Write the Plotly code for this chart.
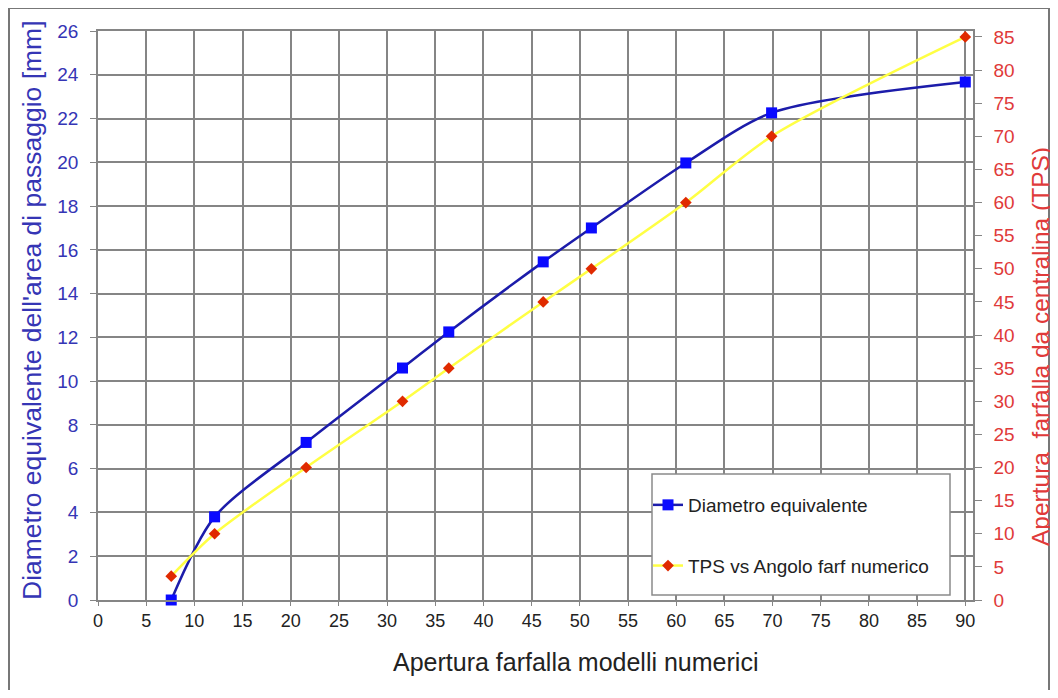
import plotly.graph_objects as go

# Data
apertura = [7.6, 12.1, 21.6, 31.6, 36.4, 46.2, 51.2, 61.0, 69.9, 90.0]
diametro = [0.0, 3.8, 7.2, 10.6, 12.25, 15.45, 17.0, 19.97, 22.26, 23.67]
tps = [3.6, 10.0, 20.0, 30.0, 35.0, 45.0, 50.0, 60.0, 70.0, 85.0]

x_ticks = list(range(0, 95, 5))
y_ticks = list(range(0, 28, 2))
y2_ticks = list(range(0, 90, 5))

FONT = "Liberation Sans, Arial, sans-serif"
BLUE_TXT = "#3535b5"
RED_TXT = "#e03a3a"
GRID = "#858585"

# page coordinates (browser body has an 8px margin)
OFF = 8
W, H = 1058 - OFF, 698 - 2 * OFF
PL, PR, PT, PB = 98, 973, 31, 600  # plot area in page pixels
L, T = PL - OFF, PT - OFF
R, B = W - (PR - OFF), H - (PB - OFF)
pw, ph = PR - PL, PB - PT

def px(xp):
    return (xp - PL) / pw

def py(yp):
    return (PB - yp) / ph

fig = go.Figure()
fig.add_trace(go.Scatter(
    x=apertura, y=diametro, name="Diametro equivalente",
    mode="lines+markers", line=dict(color="#1c1caa", width=2.5, shape="spline", smoothing=0.8),
    marker=dict(symbol="square", size=11, color="#0a0aff"),
    legendgroup="a", cliponaxis=False))
fig.add_trace(go.Scatter(
    x=apertura, y=tps, name="TPS vs Angolo farf numerico", yaxis="y2",
    mode="lines+markers", line=dict(color="#ffff44", width=2.5, shape="spline", smoothing=0.8),
    marker=dict(symbol="diamond", size=9, color="#e02a00"),
    legendgroup="b", cliponaxis=False))

fig.update_layout(
    width=W, height=H,
    margin=dict(l=L, r=R, t=T, b=B, pad=0),
    paper_bgcolor="white", plot_bgcolor="white",
    font=dict(family=FONT, size=18, color="#222"),
    xaxis=dict(range=[0, 90.8], tickvals=x_ticks, showgrid=True, gridcolor=GRID, gridwidth=1.5,
               showline=True, linecolor=GRID, linewidth=1.5, mirror=True,
               ticks="outside", ticklen=4, tickcolor=GRID,
               tickfont=dict(size=18, color="#222"), zeroline=False),
    yaxis=dict(range=[0, 26], tickvals=y_ticks, showgrid=True, gridcolor=GRID, gridwidth=1.5,
               showline=True, linecolor=GRID, linewidth=1.5,
               ticks="outside", ticklen=6, tickcolor=GRID, ticklabelstandoff=8,
               tickfont=dict(size=19, color=BLUE_TXT), zeroline=False),
    yaxis2=dict(range=[0, 85.9], tickvals=y2_ticks, overlaying="y", side="right",
                showgrid=False, showline=True, linecolor=GRID, linewidth=1.5,
                ticks="outside", ticklen=7, tickcolor=GRID, ticklabelstandoff=8,
                tickfont=dict(size=19, color=RED_TXT), zeroline=False),
    showlegend=True,
    legend=dict(x=px(648), y=py(486), xanchor="left", yanchor="top",
                bgcolor="rgba(0,0,0,0)", borderwidth=0,
                font=dict(size=19, color="#222"), tracegroupgap=33,
                itemwidth=30),
)

# legend frame
fig.add_shape(type="rect", xref="paper", yref="paper",
              x0=px(652), x1=px(950), y0=py(595), y1=py(474),
              line=dict(color="#8a8a8a", width=1.5), fillcolor="white", layer="above")

fig.add_annotation(text="Apertura farfalla modelli numerici", xref="paper", yref="paper",
                   x=px(575), y=py(662), xanchor="center", yanchor="middle",
                   showarrow=False, font=dict(size=25, color="#222"))
fig.add_annotation(text="Diametro equivalente dell'area di passaggio [mm]", xref="paper", yref="paper",
                   x=px(32), y=py(310), xanchor="center", yanchor="middle",
                   showarrow=False, textangle=-90,
                   font=dict(size=26.5, color=BLUE_TXT))
fig.add_annotation(text="Apertura  farfalla da centralina (TPS)", xref="paper", yref="paper",
                   x=px(1040), y=py(347), xanchor="center", yanchor="middle",
                   showarrow=False, textangle=-90,
                   font=dict(size=24.5, color=RED_TXT))

# outer frame
fig.add_shape(type="rect", xref="paper", yref="paper",
              x0=px(9), x1=px(1049), y0=py(692), y1=py(8),
              line=dict(color="#777", width=2), layer="below")

fig.write_html("out.html")
